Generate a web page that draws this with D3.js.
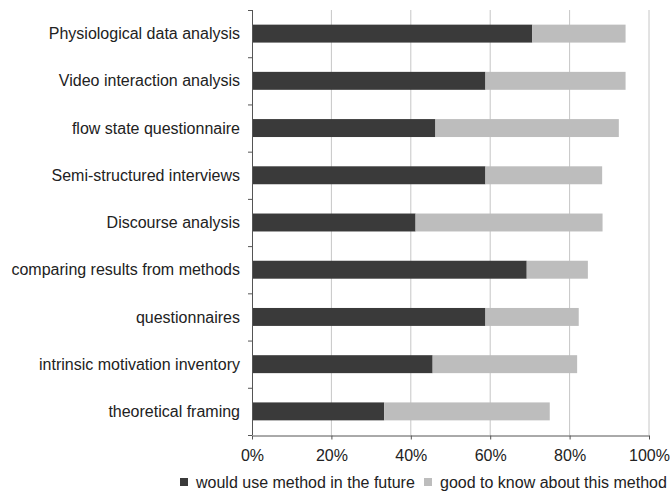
<!DOCTYPE html>
<html lang="en">
<head>
<meta charset="UTF-8" />
<title>Methods chart</title>
<script src="https://cdnjs.cloudflare.com/ajax/libs/d3/7.9.0/d3.min.js"></script>
<style>
  html, body { margin: 0; padding: 0; background: #fff; }
  svg { display: block; font-family: "Liberation Sans", Arial, sans-serif; }
  .grid line { stroke: #c6c6c6; stroke-width: 1; }
  .axis path, .axis line { stroke: #555; }
  .axis text { fill: #222; font-size: 16px; font-family: "Liberation Sans", Arial, sans-serif; }
</style>
</head>
<body>
<svg id="chart" width="670" height="493"></svg>
<script>
  // ---------- data ----------
  const categories = [
    "Physiological data analysis",
    "Video interaction analysis",
    "flow state questionnaire",
    "Semi-structured interviews",
    "Discourse analysis",
    "comparing results from methods",
    "questionnaires",
    "intrinsic motivation inventory",
    "theoretical framing"
  ];
  const wouldUse = [70.6, 58.8, 46.2, 58.8, 41.2, 69.2, 58.8, 45.5, 33.3];
  const goodToKnow = [23.5, 35.3, 46.2, 29.4, 47.1, 15.4, 23.5, 36.4, 41.7];
  const seriesNames = ["would use method in the future", "good to know about this method"];
  const xTicks = [0, 20, 40, 60, 80, 100];

  const colors = ["#3a3a3a", "#bdbdbd"];

  // ---------- layout ----------
  const margin = { top: 10, left: 252, right: 21, bottom: 58 };
  const W = 670, H = 493;
  const svg = d3.select("#chart");

  const x = d3.scaleLinear().domain([0, 100]).range([margin.left, W - margin.right]);
  const y = d3.scaleBand().domain(categories).range([margin.top, H - margin.bottom]).paddingInner(0.62).paddingOuter(0.31);
  const yBound = d3.scaleLinear().domain([0, categories.length]).range([margin.top, H - margin.bottom]);

  // gridlines
  svg.append("g").attr("class", "grid")
    .selectAll("line").data(xTicks.slice(1)).join("line")
    .attr("x1", d => x(d)).attr("x2", d => x(d))
    .attr("y1", margin.top).attr("y2", H - margin.bottom);

  // stacked bars
  const rows = categories.map((c, i) => ({ cat: c, vals: [wouldUse[i], goodToKnow[i]] }));
  const stack = d3.stack().keys([0, 1]).value((d, k) => d.vals[k]);
  const layers = stack(rows);

  svg.append("g").selectAll("g").data(layers).join("g")
    .attr("fill", (d, i) => colors[i])
    .selectAll("rect").data(d => d).join("rect")
    .attr("x", d => x(d[0]))
    .attr("width", d => x(d[1]) - x(d[0]))
    .attr("y", d => y(d.data.cat))
    .attr("height", y.bandwidth());

  // y axis (ticks at category boundaries)
  const yAxis = svg.append("g").attr("class", "axis");
  yAxis.append("line")
    .attr("x1", margin.left + 0.5).attr("x2", margin.left + 0.5)
    .attr("y1", margin.top).attr("y2", H - margin.bottom)
    .attr("stroke", "#555");
  yAxis.selectAll("line.tk").data(d3.range(categories.length + 1)).join("line")
    .attr("class", "tk")
    .attr("x1", margin.left - 4).attr("x2", margin.left)
    .attr("y1", d => yBound(d) + 0.5).attr("y2", d => yBound(d) + 0.5);
  yAxis.selectAll("text").data(categories).join("text")
    .attr("x", margin.left - 12)
    .attr("y", d => y(d) + y.bandwidth() / 2)
    .attr("dy", "0.35em")
    .attr("text-anchor", "end")
    .text(d => d);

  // x axis
  const xAxis = d3.axisBottom(x).tickValues(xTicks).tickFormat(d => d + "%").tickSize(4).tickSizeOuter(0);
  const gx = svg.append("g").attr("class", "axis")
    .attr("transform", `translate(0,${H - margin.bottom + 0.5})`)
    .call(xAxis);
  gx.selectAll("text").attr("y", 20).attr("dy", "0.35em");

  // legend
  const legend = svg.append("g").attr("transform", "translate(0,482)");
  const legendX = [180, 424];
  seriesNames.forEach((name, i) => {
    legend.append("rect")
      .attr("x", legendX[i]).attr("y", -4)
      .attr("width", 8).attr("height", 8)
      .attr("fill", colors[i]);
    legend.append("text")
      .attr("x", legendX[i] + 16).attr("y", 0)
      .attr("dy", "0.35em")
      .attr("font-size", "16px").attr("fill", "#222")
      .text(name);
  });
</script>
</body>
</html>
